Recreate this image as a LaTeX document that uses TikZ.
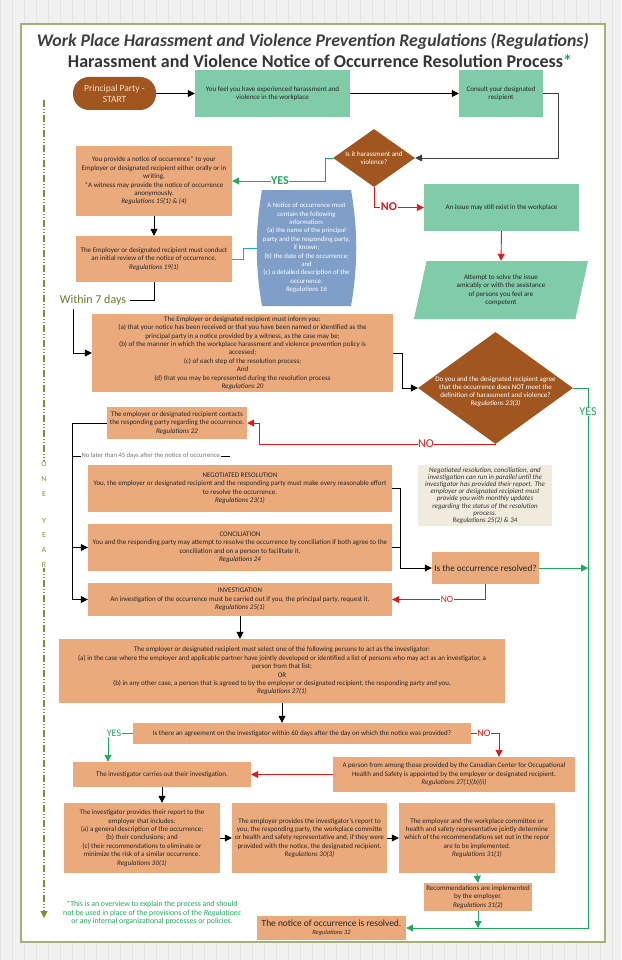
\documentclass[tikz,border=0pt]{standalone}
\usepackage{fontspec}
\setmainfont{Carlito}
\usetikzlibrary{arrows.meta,shapes.geometric}

\definecolor{pagegray}{RGB}{241,241,241}
\definecolor{gridgray}{RGB}{228,228,228}
\definecolor{framegreen}{RGB}{166,176,112}
\definecolor{boxorange}{RGB}{234,170,124}
\definecolor{boxgreen}{RGB}{128,203,168}
\definecolor{boxbrown}{RGB}{160,86,30}
\definecolor{boxblue}{RGB}{127,159,201}
\definecolor{notebeige}{RGB}{240,235,221}
\definecolor{yesgreen}{RGB}{30,170,92}
\definecolor{nored}{RGB}{228,22,22}
\definecolor{yearolive}{RGB}{122,146,48}
\definecolor{linkblue}{RGB}{40,165,205}
\definecolor{titlegray}{RGB}{62,62,62}
\definecolor{starttext}{RGB}{252,224,196}

\tikzset{
  flowbox/.style={fill=boxorange, text=black!85, align=center, inner sep=1pt,
    font=\fontsize{7}{8.4}\selectfont},
  greenbox/.style={fill=boxgreen, text=black!85, align=center, inner sep=1pt,
    font=\fontsize{7}{8.4}\selectfont},
  startshape/.style={fill=boxbrown, text=starttext, align=center, rounded corners=16pt,
    minimum width=83, minimum height=33, font=\fontsize{9.5}{11}\selectfont},
  choice/.style={diamond, fill=boxbrown, inner sep=0pt},
  choicetext/.style={text=white, align=center, font=\fontsize{7}{8}\selectfont},
  plainline/.style={draw=black, line width=0.8pt},
  arrowline/.style={plainline, -{Triangle[length=7pt,width=7pt]}},
  yesline/.style={draw=yesgreen, line width=0.9pt, -{Triangle[length=7pt,width=7pt]}},
  noline/.style={draw=nored, line width=0.9pt, -{Triangle[length=7pt,width=7pt]}},
  yeslabel/.style={fill=white, inner sep=0.5pt, text=yesgreen},
  nolabel/.style={fill=white, inner sep=0.5pt, text=nored}
}

\begin{document}
\begin{tikzpicture}[x=1pt,y=-1pt]
  \useasboundingbox (0,0) rectangle (621,960);
  \fill[pagegray] (0,0) rectangle (621,960);
  \draw[gridgray, step=12] (0,0) grid (621,960);
  \draw[framegreen, line width=1.2pt, fill=white] (21,24) rectangle (605,942);

  % titles
  \node[text=titlegray, font=\fontsize{17.8}{20}\selectfont\bfseries\itshape] (title) at (313,41)
    {Work Place Harassment and Violence Prevention Regulations (Regulations)};
  \node[text=titlegray!85!black, font=\fontsize{18}{20}\selectfont\bfseries] (subtitle) at (320,61)
    {Harassment and Violence Notice of Occurrence Resolution Process\textcolor{yesgreen}{*}};

  % one year
  \draw[yearolive, line width=1.3pt, dash pattern=on 7pt off 2pt on 1pt off 2pt on 1pt off 2pt,
    -{Triangle[length=7pt,width=7pt]}] (44,100) -- (44,918);
  \node[fill=white, inner sep=1pt, text=yearolive, align=center, font=\fontsize{7.8}{14.8}\selectfont]
    (oneyear) at (44,514.5) {O\\N\\E\\[12pt]Y\\E\\A\\R};

  % first row
  \node[startshape] (start) at (114.5,93.5) {Principal Party -\\START};
  \node[greenbox, minimum width=155, minimum height=47] (feel) at (272.5,93.5)
    {You feel you have experienced harassment and\\violence in the workplace};
  \node[greenbox, minimum width=84, minimum height=47] (consult) at (501,93.5)
    {Consult your designated\\recipient};
  \node[choice, minimum width=82, minimum height=58] (harass) at (374,158) {};
  \node[choicetext] at (harass) {Is it harassment and\\violence?};

  % notice of occurrence
  \node[flowbox, minimum width=156, minimum height=70] (provide) at (154,181)
    {You provide a notice of occurrence* to your\\Employer or designated recipient either orally or in\\writing.\\*A witness may provide the notice of occurrence\\anonymously.\\\textit{Regulations 15(1) \& (4)}};
  \node[flowbox, minimum width=156, minimum height=46] (review) at (154,259)
    {The Employer or designated recipient must conduct\\an initial review of the notice of occurrence.\\\textit{Regulations 19(1)}};
  \fill[boxblue] (262,190) -- (351,190) .. controls (358,230) and (358,266) .. (351,306)
    -- (262,306) .. controls (255,266) and (255,230) .. (262,190) -- cycle;
  \node[text=white, align=center, minimum width=97, minimum height=116, inner sep=0pt,
    font=\fontsize{6.8}{8.4}\selectfont] (notice) at (306.5,248)
    {A Notice of occurrence must\\contain the following\\information:\\(a) the name of the principal\\party and the responding party,\\if known;\\(b) the date of the occurrence;\\and\\(c) a detailed description of the\\occurrence.\\\textit{Regulations 16}};
  \node[greenbox, minimum width=155, minimum height=47] (issue) at (501.5,207.5)
    {An issue may still exist in the workplace};
  \node[greenbox, trapezium, trapezium left angle=68, trapezium right angle=112,
    trapezium stretches body, minimum width=174, minimum height=58, inner sep=0pt] (attempt) at (501,290)
    {Attempt to solve the issue\\amicably or with the assistance\\of persons you feel are\\competent};

  \node[text=yearolive!85!black, font=\fontsize{12}{13}\selectfont] (within) at (93,300) {Within 7 days};
  \coordinate (sevenstep) at (73,309);

  \node[flowbox, minimum width=301, minimum height=78] (inform) at (242.5,353)
    {The Employer or designated recipient must inform you:\\(a) that your notice has been received or that you have been named or identified as the\\principal party in a notice provided by a witness, as the case may be;\\(b) of the manner in which the workplace harassment and violence prevention policy is\\accessed;\\(c) of each step of the resolution process;\\And\\(d) that you may be represented during the resolution process\\\textit{Regulations 20}};
  \node[choice, minimum width=155, minimum height=112] (agree) at (495.5,388) {};
  \node[choicetext] at ([yshift=-4pt]agree.center)
    {Do you and the designated recipient agree\\that the occurrence does NOT meet the\\definition of harassment and violence?\\\textit{Regulations 23(3)}};
  \node[flowbox, minimum width=140, minimum height=32] (contact) at (177,423)
    {The employer or designated recipient contacts\\the responding party regarding the occurrence.\\\textit{Regulations 22}};

  % resolution process
  \node[anchor=west, inner sep=0.5pt, text=black!55, font=\fontsize{6.6}{7}\selectfont] (later) at (81,456)
    {No later than 45 days after the notice of occurrence};
  \node[flowbox, minimum width=304, minimum height=47] (negot) at (240,488.5)
    {NEGOTIATED RESOLUTION\\You, the employer or designated recipient and the responding party must make every reasonable effort\\to resolve the occurrence.\\\textit{Regulations 23(1)}};
  \node[flowbox, minimum width=304, minimum height=47] (concil) at (240,547.5)
    {CONCILIATION\\You and the responding party may attempt to resolve the occurrence by conciliation if both agree to the\\conciliation and on a person to facilitate it.\\\textit{Regulations 24}};
  \node[flowbox, minimum width=304, minimum height=33] (invest) at (240,599.5)
    {INVESTIGATION\\An investigation of the occurrence must be carried out if you, the principal party, request it.\\\textit{Regulations 25(1)}};
  \node[fill=notebeige, text=black!80, align=center, inner sep=1pt, minimum width=134, minimum height=61,
    font=\fontsize{7}{7.2}\selectfont\itshape] (note) at (485,495.5)
    {Negotiated resolution, conciliation, and\\investigation can run in parallel until the\\investigator has provided their report. The\\employer or designated recipient must\\provide you with monthly updates\\regarding the status of the resolution\\process.\\Regulations 25(2) \& 34};
  \node[flowbox, minimum width=107, minimum height=32, font=\fontsize{9.2}{10}\selectfont] (resolved) at (485.5,568)
    {Is the occurrence resolved?};

  % investigator
  \node[flowbox, minimum width=446, minimum height=64] (select) at (282,671)
    {The employer or designated recipient must select one of the following persons to act as the investigator:\\(a) in the case where the employer and applicable partner have jointly developed or identified a list of persons who may act as an investigator, a\\person from that list;\\OR\\(b) in any other case, a person that is agreed to by the employer or designated recipient, the responding party and you.\\\textit{Regulations 27(1)}};
  \node[flowbox, minimum width=338, minimum height=21] (question) at (302,733.5)
    {Is there an agreement on the investigator within 60 days after the day on which the notice was provided?};
  \node[flowbox, minimum width=242, minimum height=35] (person) at (454,774.5)
    {A person from among those provided by the Canadian Center for Occupational\\Health and Safety is appointed by the employer or designated recipient.\\\textit{Regulations 27(1)(b)(ii)}};
  \node[flowbox, minimum width=178, minimum height=25] (carries) at (162,774.5)
    {The investigator carries out their investigation.};
  \node[flowbox, minimum width=156, minimum height=70] (report) at (142,838)
    {The investigator provides their report to the\\employer that includes:\\(a) a general description of the occurrence;\\(b) their conclusions; and\\(c) their recommendations to eliminate or\\minimize the risk of a similar occurrence.\\\textit{Regulations 30(1)}};
  \node[flowbox, minimum width=155, minimum height=70] (share) at (309.5,838)
    {The employer provides the investigator's report to\\you, the responding party, the workplace committe\\or health and safety representative and, if they were\\provided with the notice, the designated recipient.\\\textit{Regulations 30(3)}};
  \node[flowbox, minimum width=156, minimum height=70] (decide) at (477,838)
    {The employer and the workplace committee or\\health and safety representative jointly determine\\which of the recommendations set out in the repor\\are to be implemented.\\\textit{Regulations 31(1)}};
  \node[flowbox, minimum width=108, minimum height=28] (implement) at (478,897)
    {Recommendations are implemented\\by the employer.\\\textit{Regulations 31(2)}};
  \node[flowbox, minimum width=149, minimum height=24, font=\fontsize{9.4}{10}\selectfont] (closed) at (331.5,928)
    {The notice of occurrence is resolved.\\[-1.5pt]{\fontsize{6.4}{6.5}\selectfont\textit{Regulations 32}}};
  \coordinate (yesturn) at (588,928);
  \node[text=yesgreen, align=center, font=\fontsize{7.8}{8.6}\selectfont] (footnote) at (152,913)
    {*This is an overview to explain the process and should\\not be used in place of the provisions of the \textit{Regulations}\\or any internal organizational processes or policies.};

  % connectors
  \draw[arrowline] (start) -- (feel);
  \draw[arrowline] (feel) -- (consult);
  \draw[arrowline, draw=black!75] (consult.east) -- ++(15,0) |- (harass.east);
  \draw[yesline] (harass.west) -- ++(-7,0) |- (provide.east);
  \node[yeslabel, font=\fontsize{12}{13}\selectfont\bfseries] (yestop) at (280,181) {YES};
  \draw[noline] (harass.south) |- (issue.west);
  \node[nolabel, font=\fontsize{12}{13}\selectfont\bfseries] (notop) at (389,207) {NO};
  \draw[noline] (issue.south) -- (attempt.north);
  \draw[arrowline] (provide.south) -- (review.north);
  \draw[linkblue, line width=0.9pt] (review.east) -- ++(11,0) |- (notice.west);
  \draw[plainline] (review.south) |- (within.east);
  \draw[arrowline] (sevenstep) |- (inform.west);
  \draw[arrowline] (inform.east) -- ++(9,0) |- (agree.west);
  \draw[yesline] (agree.east) -| (yesturn) -- (closed.east);
  \node[yeslabel, font=\fontsize{12}{13}\selectfont] (yesright) at (588,412) {YES};
  \draw[noline] (agree.south) -| ([xshift=12pt]contact.east) -- (contact.east);
  \node[nolabel, font=\fontsize{12}{13}\selectfont] (nomid) at (426,444) {NO};
  \draw[arrowline] (contact.west) -| ([xshift=-15pt]invest.west) -- (invest.west);
  \draw[arrowline] ([xshift=-15pt]concil.west) -- (concil.west);
  \draw[plainline] ([xshift=-8pt]later.west) -- (later.west);
  \draw[plainline] (later.east) -- ++(9,0);
  \draw[arrowline] (negot.east) -- ++(8,0) |- (resolved.west);
  \draw[plainline] (concil.east) -- ++(8,0);
  \draw[yesline] (resolved.east) -- (resolved.east -| yesturn);
  \draw[noline] (resolved.south) |- (invest.east);
  \node[nolabel, font=\fontsize{9.5}{10}\selectfont] (nolow) at (447,599.5) {NO};
  \draw[arrowline] (invest.south) -- (invest.south |- select.north);
  \draw[arrowline] (select.south) -- (select.south |- question.north);
  \node[yeslabel, font=\fontsize{10}{11}\selectfont] (yesq) at (114,733.5) {YES};
  \draw[yesgreen, line width=0.9pt] (question.west) -- (yesq.east);
  \draw[yesline] (yesq.south) ++(-6,0) coordinate (yesdrop) -- (yesdrop |- carries.north);
  \node[nolabel, font=\fontsize{10}{11}\selectfont] (noq) at (484,733.5) {NO};
  \draw[nored, line width=0.9pt] (question.east) -- (noq.west);
  \draw[noline] (noq.east) -| ([xshift=45pt]person.north);
  \draw[noline] (person.west) -- (carries.east);
  \draw[arrowline] (carries.south) -- (carries.south |- report.north);
  \draw[arrowline] (report) -- (share);
  \draw[arrowline] (share) -- (decide);
  \draw[yesline] (decide.south) -- (implement.north);
  \draw[yesline] (implement.south) -- (implement.south |- yesturn);
\end{tikzpicture}
\end{document}
